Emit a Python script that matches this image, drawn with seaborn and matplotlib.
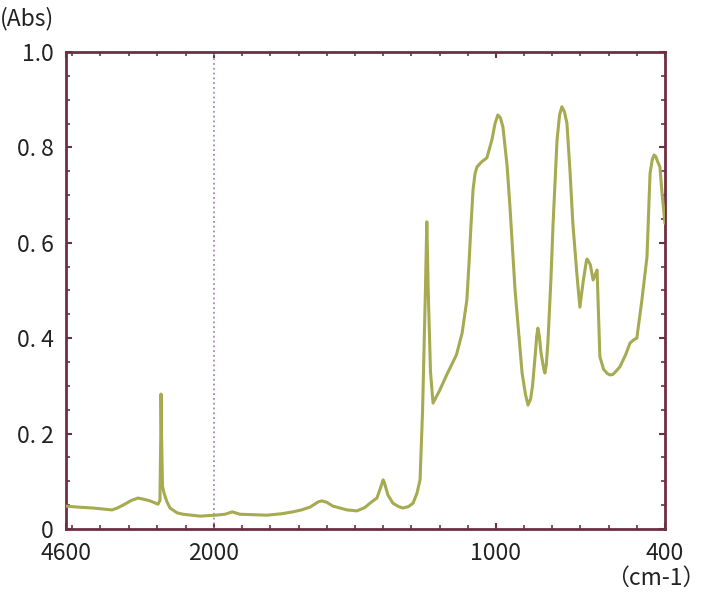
import numpy as np
import pandas as pd
import matplotlib
matplotlib.use("Agg")
import matplotlib.pyplot as plt
import seaborn as sns
from matplotlib.ticker import FixedLocator, FixedFormatter

# ---- data ----
wavenumber = [4600, 4400, 4126, 3950, 3792, 3700, 3599, 3450, 3335, 3220, 3124, 2984,
              2950, 2935, 2931, 2922, 2905, 2878, 2830, 2773, 2650, 2545, 2400, 2246,
              2100, 1996, 1960, 1936, 1908, 1860, 1812, 1760, 1720, 1690, 1659, 1630, 1617,
              1600, 1578, 1528, 1493, 1465, 1447, 1422, 1410, 1403, 1400, 1396, 1392, 1383, 1365,
              1345, 1330, 1310, 1294, 1280, 1269, 1260, 1250, 1245, 1240, 1232, 1223,
              1200, 1173, 1140, 1120, 1103, 1095, 1088, 1081, 1074, 1067, 1050, 1032, 1014,
              1003, 993, 984, 975, 960, 950, 932, 907, 895, 886, 877, 870, 861, 855, 851, 846, 840, 830, 826, 821,
              815, 805, 797, 783, 774, 766, 757, 748, 737, 727, 712, 702, 690, 680, 677, 672,
              665, 655, 641, 636, 631, 618, 605, 595, 585, 575, 560, 540, 524, 510, 500,
              482, 464, 453, 445, 439, 433, 426, 418, 410, 400]
absorbance = [0.048, 0.046, 0.044, 0.042, 0.040, 0.044, 0.050, 0.060, 0.065, 0.062, 0.059, 0.052,
              0.060, 0.200, 0.283, 0.200, 0.090, 0.075, 0.058, 0.044, 0.034, 0.031, 0.029, 0.027,
              0.028, 0.029, 0.031, 0.036, 0.031, 0.030, 0.029, 0.032, 0.036, 0.040, 0.046, 0.057, 0.059,
              0.056, 0.048, 0.040, 0.038, 0.045, 0.054, 0.065, 0.085, 0.098, 0.103, 0.098, 0.090, 0.071, 0.054,
              0.047, 0.044, 0.047, 0.054, 0.075, 0.103, 0.250, 0.500, 0.644, 0.500, 0.330, 0.264,
              0.290, 0.325, 0.365, 0.410, 0.480, 0.560, 0.640, 0.711, 0.745, 0.759, 0.770, 0.778, 0.816,
              0.850, 0.868, 0.862, 0.843, 0.760, 0.675, 0.501, 0.327, 0.282, 0.260, 0.272, 0.300, 0.361, 0.405, 0.421, 0.405, 0.370, 0.335, 0.327, 0.345,
              0.396, 0.520, 0.641, 0.816, 0.868, 0.885, 0.875, 0.851, 0.750, 0.641, 0.530, 0.465, 0.520, 0.558, 0.566, 0.562,
              0.554, 0.522, 0.543, 0.450, 0.361, 0.335, 0.326, 0.323, 0.324, 0.330, 0.340, 0.365, 0.390, 0.397, 0.400,
              0.480, 0.570, 0.746, 0.775, 0.784, 0.781, 0.770, 0.759, 0.700, 0.641]

x_ticks = [4600, 2000, 1000, 400]
x_tick_labels = ["4600", "2000", "1000", "400"]
y_ticks = [0.0, 0.2, 0.4, 0.6, 0.8, 1.0]
y_tick_labels = ["0", "0. 2", "0. 4", "0. 6", "0. 8", "1.0"]

df = pd.DataFrame({"wavenumber": wavenumber, "absorbance": absorbance})

# ---- style ----
sns.set_theme(style="white")
plt.rcParams["font.family"] = ["Noto Sans CJK JP", "DejaVu Sans"]

# compressed scale above 2000 cm-1
R = 0.2019
def fwd(x):
    x = np.asarray(x, dtype=float)
    return np.where(x <= 2000, x, 2000 + (x - 2000) * R)
def inv(y):
    y = np.asarray(y, dtype=float)
    return np.where(y <= 2000, y, 2000 + (y - 2000) / R)

fig = plt.figure(figsize=(7.07, 5.94), dpi=100)
ax = fig.add_axes([0.0934, 0.1094, 0.8472, 0.8031])
ax.set_xscale("function", functions=(fwd, inv))

sns.lineplot(data=df, x="wavenumber", y="absorbance", ax=ax, estimator=None,
             sort=False, color="#a6aa50", linewidth=2.2, zorder=3)

ax.axvline(2000, color="#a58ab0", linestyle=":", linewidth=1.3, zorder=2)

ax.set_xlim(4600, 400)
ax.set_ylim(0, 1.0)

ax.xaxis.set_major_locator(FixedLocator(x_ticks))
ax.xaxis.set_major_formatter(FixedFormatter(x_tick_labels))
minor_x = list(range(4500, 2000, -500)) + list(range(1900, 400, -100))
ax.xaxis.set_minor_locator(FixedLocator(minor_x))
ax.yaxis.set_major_locator(FixedLocator(y_ticks))
ax.yaxis.set_major_formatter(FixedFormatter(y_tick_labels))
ax.yaxis.set_minor_locator(FixedLocator(list(np.arange(0.05, 1.0, 0.05))))

frame_color = "#6e2f42"
for s in ax.spines.values():
    s.set_visible(True)
    s.set_color(frame_color)
    s.set_linewidth(2.0)

ax.tick_params(axis="both", which="both", direction="in", colors=frame_color,
               top=True, right=True, bottom=True, left=True)
ax.tick_params(axis="both", which="major", length=4, width=1.5, labelsize=16.5,
               labelcolor="#222222", pad=9)
ax.tick_params(axis="both", which="minor", length=3, width=1.2)

ax.set_xlabel("")
ax.set_ylabel("")

fig.text(0.0, 0.968, "(Abs)", fontsize=16.5, color="#222222", ha="left", va="center")
fig.text(0.998, 0.027, "（cm-1）", fontsize=16.5, color="#222222", ha="right", va="center")

fig.savefig("out.png", dpi=100, facecolor="white")
